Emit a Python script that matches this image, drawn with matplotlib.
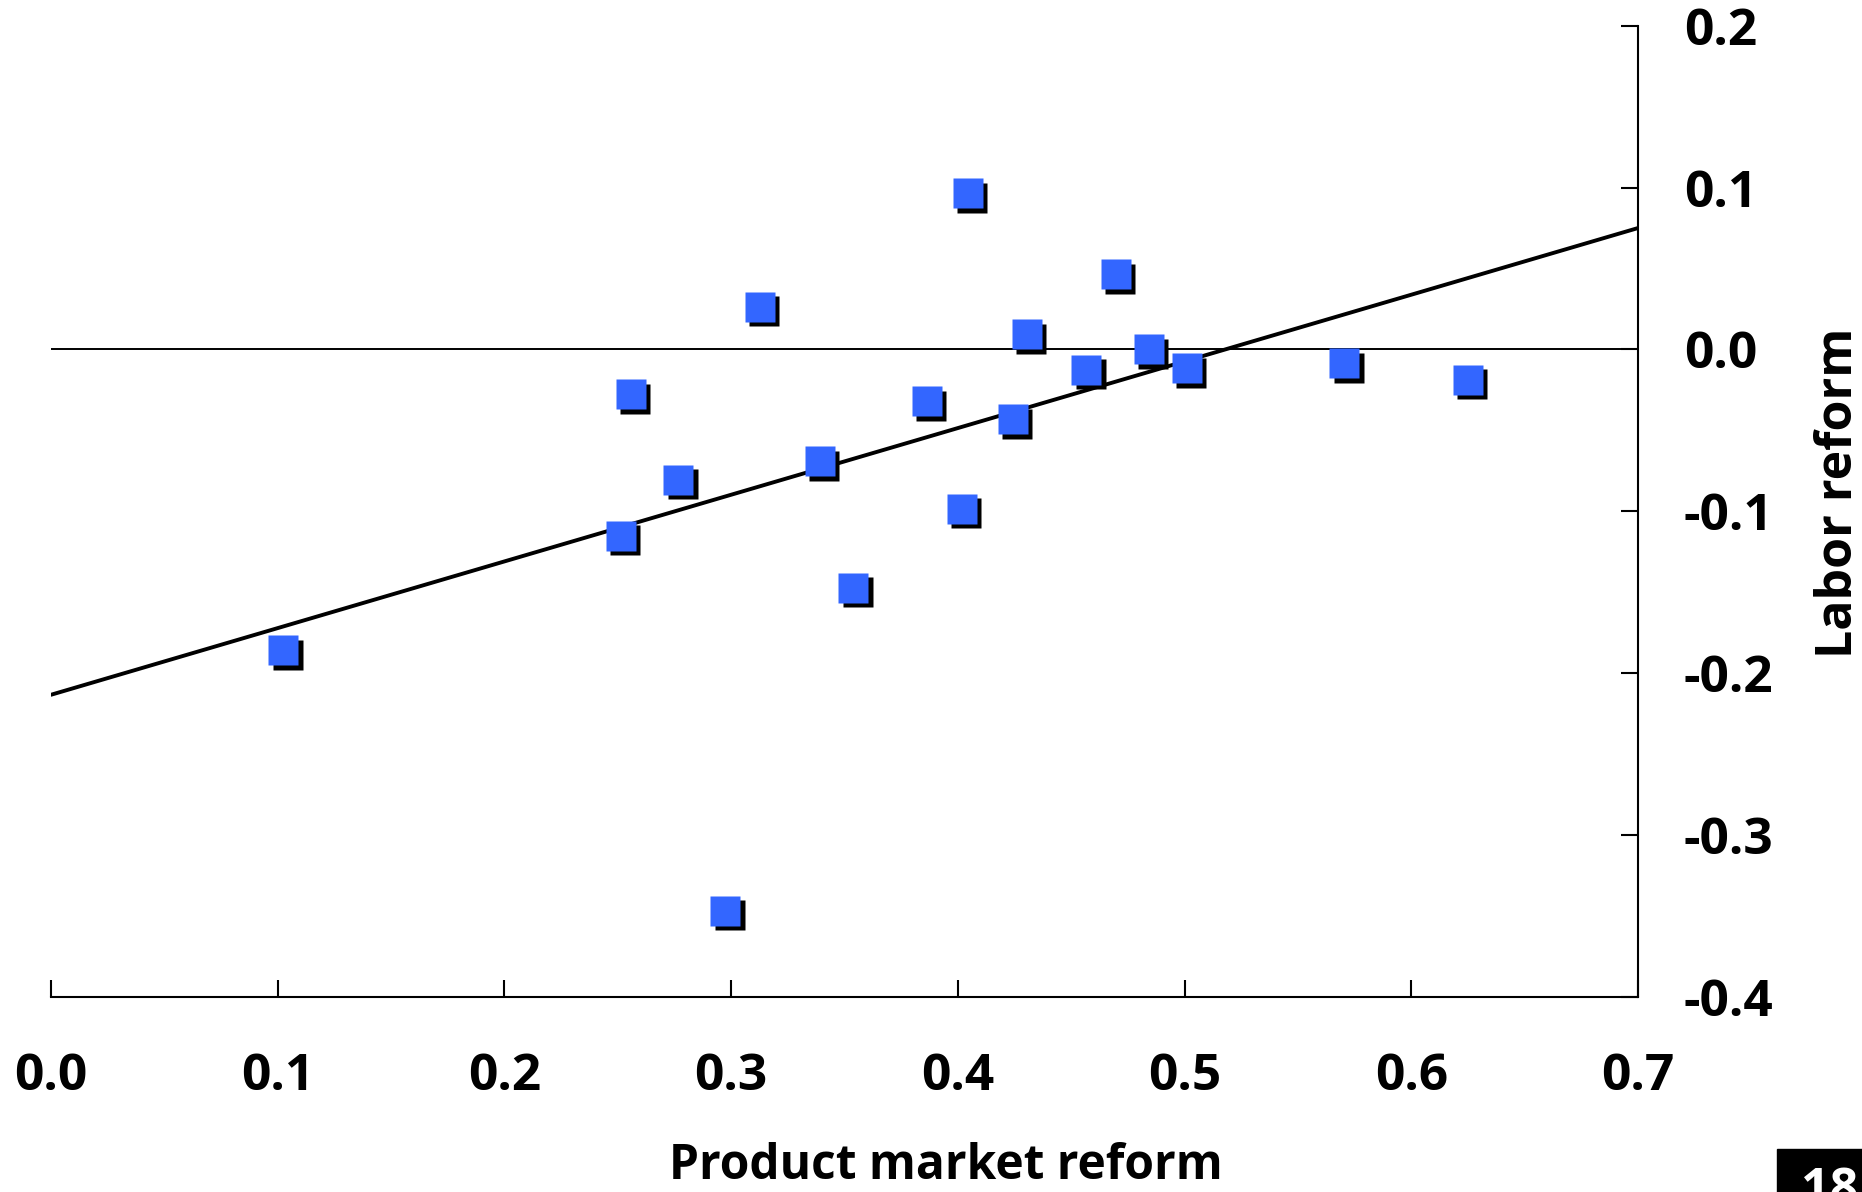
import matplotlib
matplotlib.use('Agg')
import matplotlib.pyplot as plt
import matplotlib.patches as patches
import matplotlib.transforms as mtransforms

# country points: product market reform vs labor reform
product_reform = [0.1025, 0.4044, 0.3126, 0.4697, 0.4303, 0.4843, 0.4567, 0.5010, 0.5705, 0.6248,
                  0.2559, 0.3862, 0.4244, 0.2767, 0.3392, 0.2512, 0.4018, 0.3539, 0.2975]
labor_reform = [-0.1860, 0.0965, 0.0262, 0.0464, 0.0093, 0.0001, -0.0127, -0.0117, -0.0086, -0.0189,
                -0.0278, -0.0320, -0.0433, -0.0804, -0.0691, -0.1151, -0.0986, -0.1474, -0.3470]

# fitted trend line
fit_x = [0.0, 0.7]
fit_y = [-0.2134, 0.075]

x_ticks = [0.0, 0.1, 0.2, 0.3, 0.4, 0.5, 0.6, 0.7]
y_ticks = [-0.4, -0.3, -0.2, -0.1, 0.0, 0.1, 0.2]

page_number = '18'


def main():
    plt.rcParams['font.family'] = ['Open Sans', 'DejaVu Sans']
    plt.rcParams['font.weight'] = 'bold'

    fig = plt.figure(figsize=(18.62, 11.92), dpi=100)
    ax = fig.add_axes([0.0274, 0.1638, 0.8523, 0.8146])

    ax.axhline(0, color='black', lw=1.4, zorder=1)
    ax.plot(fit_x, fit_y, color='black', lw=2.8, solid_capstyle='round', zorder=2)

    # drop shadow under each square
    shadow = mtransforms.offset_copy(ax.transData, fig=fig, x=4.3, y=-4.3, units='dots')
    ax.plot(product_reform, labor_reform, 's', ms=21, mfc='black', mec='none',
            transform=shadow, zorder=3, clip_on=False)
    ax.plot(product_reform, labor_reform, 's', ms=21, mfc='#3366ff', mec='none',
            zorder=4, clip_on=False)

    ax.set_xlim(0, 0.7)
    ax.set_ylim(-0.4, 0.2)
    ax.spines['top'].set_visible(False)
    ax.spines['left'].set_visible(False)
    ax.spines['right'].set_linewidth(1.5)
    ax.spines['bottom'].set_linewidth(1.5)

    ax.set_xticks(x_ticks)
    ax.set_xticklabels([f'{v:.1f}' for v in x_ticks])
    ax.yaxis.tick_right()
    ax.set_yticks(y_ticks)
    ax.set_yticklabels([f'{v:.1f}' for v in y_ticks])
    ax.tick_params(axis='x', direction='in', length=12, width=1.5, pad=40, labelsize=37)
    ax.tick_params(axis='y', direction='in', length=12, width=1.5, pad=33, labelsize=37)

    fig.text(946 / 1862, 0.011, 'Product market reform', ha='center', va='baseline',
             fontsize=34.5, fontweight='bold')
    fig.text(1839 / 1862, 1 - 493 / 1192, 'Labor reform', ha='center', va='center',
             rotation=90, fontsize=36, fontweight='bold')

    # page number box in the corner
    box = patches.Rectangle((1777 / 1862, 0), 85 / 1862, 43 / 1192,
                            transform=fig.transFigure, color='black')
    fig.add_artist(box)
    fig.text(1801 / 1862, 1 - 1166 / 1192, page_number, color='white', ha='left', va='top',
             fontsize=36, fontweight='bold')

    fig.savefig('out.png', dpi=100)


main()
